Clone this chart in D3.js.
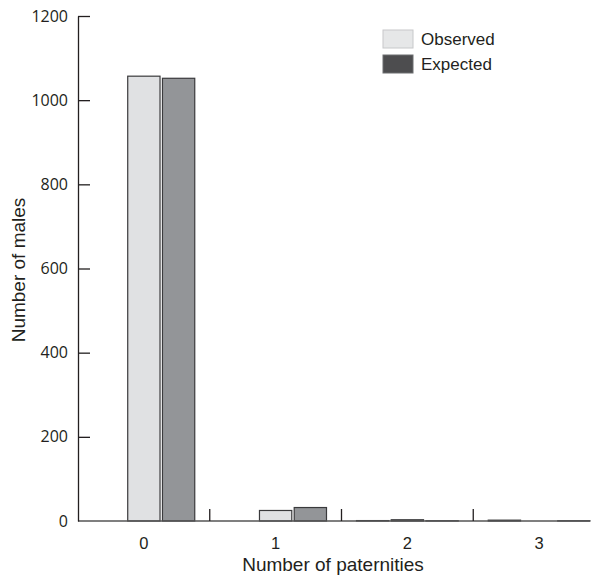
<!DOCTYPE html>
<html><head><meta charset="utf-8">
<script src="https://cdn.jsdelivr.net/npm/d3@7"></script>
<style>body{margin:0;background:#fff}</style></head>
<body><svg id="c" width="603" height="578"></svg>
<script>
const categories = ["0","1","2","3"];
const seriesNames = ["Other","Observed","Expected"];
const otherValues = [0, 0, 1, 2];
const observedValues = [1057, 25, 3, 0];
const expectedValues = [1052, 32, 0.5, 0.5];
const yTicks = [0, 200, 400, 600, 800, 1000, 1200];
const legendNames = ["Observed","Expected"];

const series = [otherValues, observedValues, expectedValues];
const fills = ["#4d4d4f", "#e0e1e3", "#939598"];
const svg = d3.select("#c");
const ink = "#231f20";

const x = d3.scaleBand().domain(categories).range([78, 605]).padding(0);
const xi = d3.scaleBand().domain(d3.range(3)).range([15, x.bandwidth() - 15]).paddingInner(0.07);
const y = d3.scaleLinear().domain([0, 1200]).range([521, 16]);

categories.forEach((c, ci) => {
  series.forEach((s, si) => {
    const v = s[ci];
    svg.append("rect")
      .attr("x", x(c) + xi(si))
      .attr("y", y(v))
      .attr("width", xi.bandwidth())
      .attr("height", Math.max(0, y(0) - y(v)))
      .attr("fill", fills[si])
      .attr("stroke", "#3a3a3c")
      .attr("stroke-width", 1.2);
  });
});

svg.append("line").attr("x1", 78).attr("x2", x("3") + xi(2) + xi.bandwidth())
  .attr("y1", y(0)).attr("y2", y(0)).attr("stroke", "#555").attr("stroke-width", 1.3);
categories.slice(1).forEach(c => {
  svg.append("line").attr("x1", x(c)).attr("x2", x(c)).attr("y1", y(0)).attr("y2", y(0) - 12)
    .attr("stroke", ink).attr("stroke-width", 1.3);
});
svg.selectAll(".xl").data(categories).enter().append("text")
  .attr("x", d => x(d) + x.bandwidth() / 2).attr("y", 545)
  .attr("text-anchor", "middle").attr("dominant-baseline", "middle")
  .attr("font-family", "Liberation Sans, Arial, sans-serif").attr("font-size", 16.5).attr("fill", ink)
  .text(d => d);

const ya = svg.append("g").attr("transform", "translate(78,0)")
  .call(d3.axisLeft(y).tickValues(yTicks).tickFormat(d3.format("d")).tickSizeInner(-12).tickSizeOuter(0).tickPadding(10));
ya.select(".domain").attr("stroke", ink).attr("stroke-width", 1.3);
ya.selectAll(".tick line").attr("stroke", ink).attr("stroke-width", 1.3);
ya.selectAll(".tick").filter(d => d === 0).select("line").remove();
ya.selectAll("text").attr("font-family", "Open Sans, sans-serif").attr("font-size", 16).attr("fill", ink);

svg.append("text").attr("transform", "translate(25,270) rotate(-90)")
  .attr("text-anchor", "middle").attr("font-family", "Liberation Sans, Arial, sans-serif")
  .attr("font-size", 19).attr("fill", ink).text("Number of males");
svg.append("text").attr("x", 333).attr("y", 571)
  .attr("text-anchor", "middle").attr("font-family", "Liberation Sans, Arial, sans-serif")
  .attr("font-size", 19).attr("fill", ink).text("Number of paternities");

const legFill = ["#e6e7e8", "#4d4d4f"];
const legStroke = ["#c7c8ca", "#6d6e70"];
legendNames.forEach((n, i) => {
  svg.append("rect").attr("x", 383).attr("y", 30 + i * 25).attr("width", 30).attr("height", 18)
    .attr("fill", legFill[i]).attr("stroke", legStroke[i]).attr("stroke-width", 1);
  svg.append("text").attr("x", 421).attr("y", 45 + i * 25)
    .attr("font-family", "Liberation Sans, Arial, sans-serif").attr("font-size", 17).attr("fill", ink)
    .text(n);
});
</script></body></html>
